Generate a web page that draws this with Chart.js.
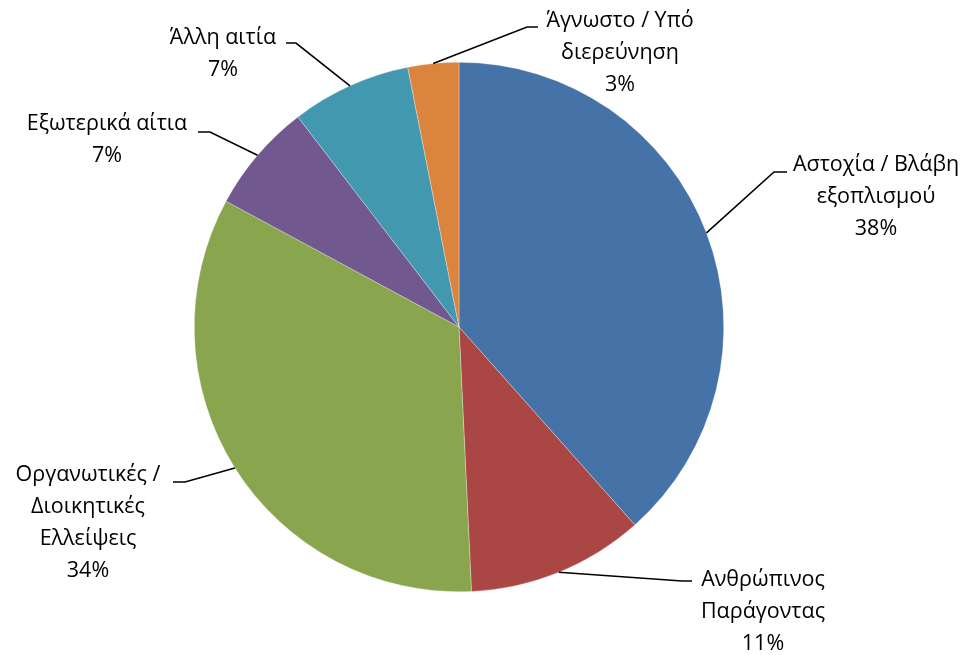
<!DOCTYPE html>
<html>
<head>
<meta charset="utf-8">
<script src="https://cdn.jsdelivr.net/npm/chart.js@4"></script>
<style>
  html, body { margin: 0; padding: 0; background: #fff; }
  #wrap { width: 976px; height: 655px; }
</style>
</head>
<body>
<div id="wrap"><canvas id="pieChart" width="976" height="655"></canvas></div>
<script>
// Kategori (baris label dipisah seperti di gambar)
const categories = [
    ["Αστοχία / Βλάβη", "εξοπλισμού"],
    ["Ανθρώπινος", "Παράγοντας"],
    ["Οργανωτικές /", "Διοικητικές", "Ελλείψεις"],
    ["Εξωτερικά αίτια"],
    ["Άλλη αιτία"],
    ["Άγνωστο / Υπό", "διερεύνηση"]
];

// Nilai (dalam %)
const values = [38.4, 10.8, 33.6, 6.7, 7.3, 3.1];

const colors = ["#4572A7", "#AA4643", "#89A54E", "#71588F", "#4198AF", "#DB843D"];

// Posisi label + garis penunjuk (layout saja)
const labelLayout = [
    { elbow: [774, 172], end: [787, 172], tx: 876, ty: 165 },
    { elbow: [682, 581], end: [692, 581], tx: 763, ty: 580 },
    { elbow: [185, 482], end: [173, 482], tx: 88, ty: 475 },
    { elbow: [210, 132], end: [198, 132], tx: 107, ty: 124 },
    { elbow: [296, 43], end: [286, 43], tx: 223, ty: 38 },
    { elbow: [527, 27], end: [538, 27], tx: 620, ty: 21 }
];

const lineHeight = 32;

// Plugin untuk label di luar pie dengan garis penunjuk
const outsideLabels = {
    id: "outsideLabels",
    afterDatasetsDraw(chart) {
        const c = chart.ctx;
        const meta = chart.getDatasetMeta(0);
        const data = chart.data.datasets[0].data;
        const total = data.reduce((a, b) => a + b, 0);

        meta.data.forEach((arc, i) => {
            const p = arc.getProps(["x", "y", "startAngle", "endAngle", "outerRadius"], true);
            const mid = (p.startAngle + p.endAngle) / 2;
            const sx = p.x + Math.cos(mid) * p.outerRadius;
            const sy = p.y + Math.sin(mid) * p.outerRadius;
            const lay = labelLayout[i];

            c.save();
            c.strokeStyle = "#000";
            c.lineWidth = 1.6;
            c.beginPath();
            c.moveTo(sx, sy);
            c.lineTo(lay.elbow[0], lay.elbow[1]);
            c.lineTo(lay.end[0], lay.end[1]);
            c.stroke();

            const lines = chart.data.labels[i].concat([Math.round(data[i] / total * 100) + "%"]);
            c.fillStyle = "#000";
            c.font = "21.5px 'Open Sans'";
            c.textAlign = "center";
            c.textBaseline = "middle";
            lines.forEach((t, k) => {
                c.fillText(t, lay.tx, lay.ty + k * lineHeight);
            });
            c.restore();
        });
    }
};

let ctx = document.getElementById("pieChart").getContext("2d");

let pieChart = new Chart(ctx, {
    type: "pie",
    data: {
        labels: categories,
        datasets: [{
            data: values,
            backgroundColor: colors,
            borderColor: "rgba(255,255,255,0.6)",
            borderWidth: 0.5
        }]
    },
    options: {
        responsive: false,
        animation: false,
        layout: {
            padding: { left: 194, right: 252, top: 62, bottom: 63 }
        },
        plugins: {
            legend: { display: false },
            tooltip: { enabled: false }
        }
    },
    plugins: [outsideLabels]
});
</script>
</body>
</html>
